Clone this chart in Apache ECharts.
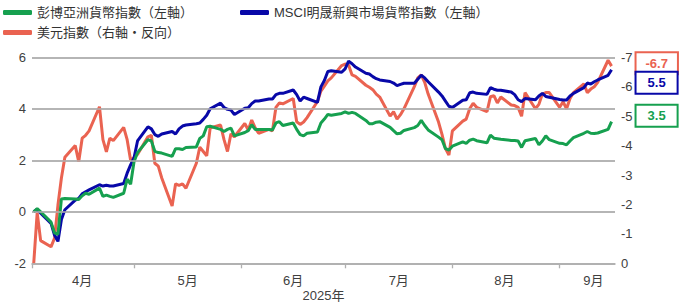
<!DOCTYPE html>
<html><head><meta charset="utf-8">
<script src="https://cdn.jsdelivr.net/npm/echarts@6/dist/echarts.min.js"></script>
<style>html,body{margin:0;padding:0;background:#fff}#c{width:682px;height:305px}</style>
</head><body><div id="c"></div>
<script>
// Business days per month (2025), months 3=Apr ... 8=Sep (JS month index)
const aprDays = [2,3,4,7,8,9,10,11,14,15,16,17,18,21,22,23,24,25,28,29,30];
const mayDays = [1,2,5,6,7,8,9,12,13,14,15,16,19,20,21,22,23,26,27,28,29,30];
const junDays = [2,3,4,5,6,9,10,11,12,13,16,17,18,19,20,23,24,25,26,27,30];
const julDays = [1,2,3,4,7,8,9,10,11,14,15,16,17,18,21,22,23,24,25,28,29,30,31];
const augDays = [1,4,5,6,7,8,11,12,13,14,15,18,19,20,21,22,25,26,27,28,29];
const sepDays = [1,2,3,4,5,8,9,10,11,12,15,16];

const seriesNames = ['彭博亞洲貨幣指數（左軸）', 'MSCI明晟新興市場貨幣指數（左軸）', '美元指數（右軸・反向）'];
const monthLabels = ['4月','5月','6月','7月','8月','9月'];
const axisName = '2025年';
const leftTicks = [-2, 0, 2, 4, 6];

const asiaFx = [
 0,0.12,0,-0.4,-0.82,-0.88,0.5,0.52,0.5,0.48,0.62,0.72,0.68,0.92,0.6,0.65,0.6,0.56,0.72,1.27,1.07,
 1.95,2.3,2.8,2.75,2.35,2.3,2.28,2.15,2.45,2.45,2.42,2.5,2.52,2.85,2.95,3.3,3.32,3.2,3.12,3.2,3.25,2.95,
 3.08,3.15,3.38,3.2,3.2,3.2,3.18,3.45,3.5,3.35,3.45,3.2,3.0,2.95,3.05,3.1,3.45,3.6,3.78,3.75,3.82,
 3.88,3.82,3.86,3.82,3.55,3.42,3.42,3.48,3.5,3.28,3.15,3.03,3.05,3.16,3.27,3.35,3.55,3.35,3.18,2.9,2.8,2.45,2.4,
 2.55,2.72,2.66,2.78,2.82,2.76,2.68,2.98,2.86,2.84,2.82,2.77,2.77,2.75,2.5,2.76,2.85,2.6,2.75,2.95,2.8,
 2.66,2.65,2.6,2.75,2.88,3.05,3.12,3.05,3.04,3.06,3.2,3.5
];
const emFx = [
 0,0.1,-0.05,-0.45,-0.9,-1.15,-0.3,0.08,0.45,0.52,0.7,0.78,0.85,1.05,1.0,1.03,1.0,1.0,1.1,1.5,1.82,
 2.1,2.75,3.3,3.22,3.0,2.93,3.02,3.12,3.02,3.22,3.33,3.37,3.42,3.45,3.59,3.75,4.0,4.22,4.05,3.98,3.95,3.78,
 4.02,4.04,4.2,4.3,4.3,4.38,4.38,4.55,4.6,4.6,4.73,4.55,4.3,4.45,4.4,4.25,4.85,5.1,5.45,5.48,5.42,
 5.55,5.85,5.75,5.62,5.38,5.35,5.25,5.17,5.12,5.06,5.0,4.9,4.95,4.99,4.99,5.15,5.3,5.2,5.05,4.65,4.5,4.3,4.1,
 4.05,4.33,4.35,4.62,4.65,4.6,4.56,4.82,4.76,4.72,4.72,4.65,4.55,4.35,4.28,4.4,4.35,4.5,4.6,4.48,4.45,
 4.36,4.34,4.34,4.5,4.6,4.82,5.0,4.96,5.05,5.12,5.3,5.52
];
const usdInv = [
 0,-1.72,-0.77,-0.56,-0.85,-1.98,-2.9,-3.6,-4.0,-3.45,-4.25,-4.35,-4.5,-5.32,-4.2,-3.79,-4.25,-4.17,-4.62,-4.2,-3.5,
 -3.6,-3.7,-4.3,-4.35,-3.4,-3.3,-2.9,-1.95,-2.7,-2.65,-2.7,-2.55,-3.4,-3.95,-3.8,-3.65,-4.6,-4.7,-4.2,-3.8,-4.4,-4.3,
 -4.75,-4.53,-4.87,-4.6,-4.42,-4.55,-4.5,-5.3,-5.45,-5.42,-5.6,-4.81,-4.72,-4.8,-4.95,-5.5,-5.85,-6.02,-6.2,-6.3,-6.72,
 -6.77,-6.74,-6.4,-6.35,-6.05,-5.98,-5.9,-5.75,-5.65,-5.0,-5.15,-4.9,-5.05,-5.25,-6.0,-6.3,-6.4,-6.15,-5.75,-4.8,-4.38,-3.9,-3.68,
 -4.5,-4.83,-4.9,-5.25,-5.44,-5.3,-5.15,-5.66,-5.7,-5.45,-5.65,-5.38,-5.36,-5.3,-5.0,-5.8,-5.25,-5.4,-5.75,-5.8,-5.8,
 -5.3,-5.49,-5.25,-5.6,-5.8,-6.1,-5.8,-5.92,-6.0,-6.15,-6.9,-6.7
];

const colors = {green:'#16A04F', blue:'#0808A8', red:'#EA6351', grid:'#b0b0b0'};
const FONT = "'Liberation Sans','Noto Sans CJK TC',sans-serif";

const dates = [];
[[3,aprDays],[4,mayDays],[5,junDays],[6,julDays],[7,augDays],[8,sepDays]].forEach(([m,ds])=>{
  ds.forEach(d=>dates.push(new Date(2025,m,d).getTime()));
});
const pair = arr => dates.map((t,i)=>[t, arr[i]]);

const tickVals = [new Date(2025,3,1,12).getTime(), new Date(2025,4,1).getTime(), new Date(2025,5,1).getTime(),
  new Date(2025,6,1).getTime(), new Date(2025,7,1).getTime(), new Date(2025,8,1).getTime()];
const labelVals = [new Date(2025,3,16).getTime(), new Date(2025,4,16,12).getTime(), new Date(2025,5,16).getTime(),
  new Date(2025,6,16,12).getTime(), new Date(2025,7,16).getTime(), new Date(2025,8,10,18).getTime()];

function endLabel(color, dy, padX){
  return {show:true, formatter: p => p.value[1].toFixed(1), color: color, fontWeight:'bold', fontSize:13,
    fontFamily: FONT, backgroundColor:'#fff', borderColor: color, borderWidth:2, padding:[3,padX,3,padX],
    lineHeight:14, distance:25, offset:[0,dy]};
}

const chart = echarts.init(document.getElementById('c'), null, {renderer:'svg'});
chart.setOption({
  animation:false,
  textStyle:{fontFamily:FONT},
  grid:{left:32, right:67, top:57.3, bottom:41.7, containLabel:false, outerBoundsMode:'none'},
  legend:[
    {data:[seriesNames[0], seriesNames[1]], left:3, top:6, padding:0, itemWidth:29, itemHeight:5, itemGap:47, icon:'roundRect',
     textStyle:{fontSize:13, color:'#333', fontFamily:FONT}},
    {data:[seriesNames[2]], left:3, top:26, padding:0, itemWidth:29, itemHeight:5, icon:'roundRect',
     textStyle:{fontSize:13, color:'#333', fontFamily:FONT}}
  ],
  xAxis:{type:'value', min:tickVals[0], max:new Date(2025,8,17).getTime(),
    name:axisName, nameLocation:'middle', nameGap:26, nameMoveOverlap:false,
    nameTextStyle:{fontSize:13, color:'#404040', lineHeight:13},
    axisLine:{show:true, onZero:false, lineStyle:{color:colors.grid, width:1.6, type:'solid'}},
    axisTick:{show:true, customValues:tickVals, length:5, lineStyle:{color:colors.grid, width:1.3}},
    axisLabel:{customValues:labelVals, fontSize:13, color:'#404040', margin:11,
      formatter: v => monthLabels[new Date(v).getMonth()-3]},
    splitLine:{show:false}},
  yAxis:[
    {type:'value', min:-2, max:6, interval:2, axisLine:{show:false}, axisTick:{show:false},
     axisLabel:{fontSize:13, color:'#404040', margin:6},
     splitLine:{show:true, lineStyle:{color:colors.grid, width:1.6, type:'solid'}}},
    {type:'value', min:-7, max:0, interval:1, inverse:true, axisLine:{show:false}, axisTick:{show:false},
     axisLabel:{fontSize:13, color:'#404040', margin:6}, splitLine:{show:false}}
  ],
  series:[
    {name:'grid', type:'line', yAxisIndex:0, data:[], silent:true,
     markLine:{silent:true, symbol:'none', label:{show:false}, animation:false,
       lineStyle:{color:colors.grid, width:1.6, type:'solid'},
       data: leftTicks.map(v=>({yAxis:v}))}},
    {name:seriesNames[2], type:'line', yAxisIndex:1, data:pair(usdInv), showSymbol:false, symbol:'none',
     lineStyle:{width:3, color:colors.red}, itemStyle:{color:colors.red}, endLabel:endLabel(colors.red,-3,9)},
    {name:seriesNames[1], type:'line', yAxisIndex:0, data:pair(emFx), showSymbol:false, symbol:'none',
     lineStyle:{width:3, color:colors.blue}, itemStyle:{color:colors.blue}, endLabel:endLabel(colors.blue,13,11)},
    {name:seriesNames[0], type:'line', yAxisIndex:0, data:pair(asiaFx), showSymbol:false, symbol:'none',
     lineStyle:{width:3, color:colors.green}, itemStyle:{color:colors.green}, endLabel:endLabel(colors.green,-6,11)}
  ]
});
</script></body></html>
